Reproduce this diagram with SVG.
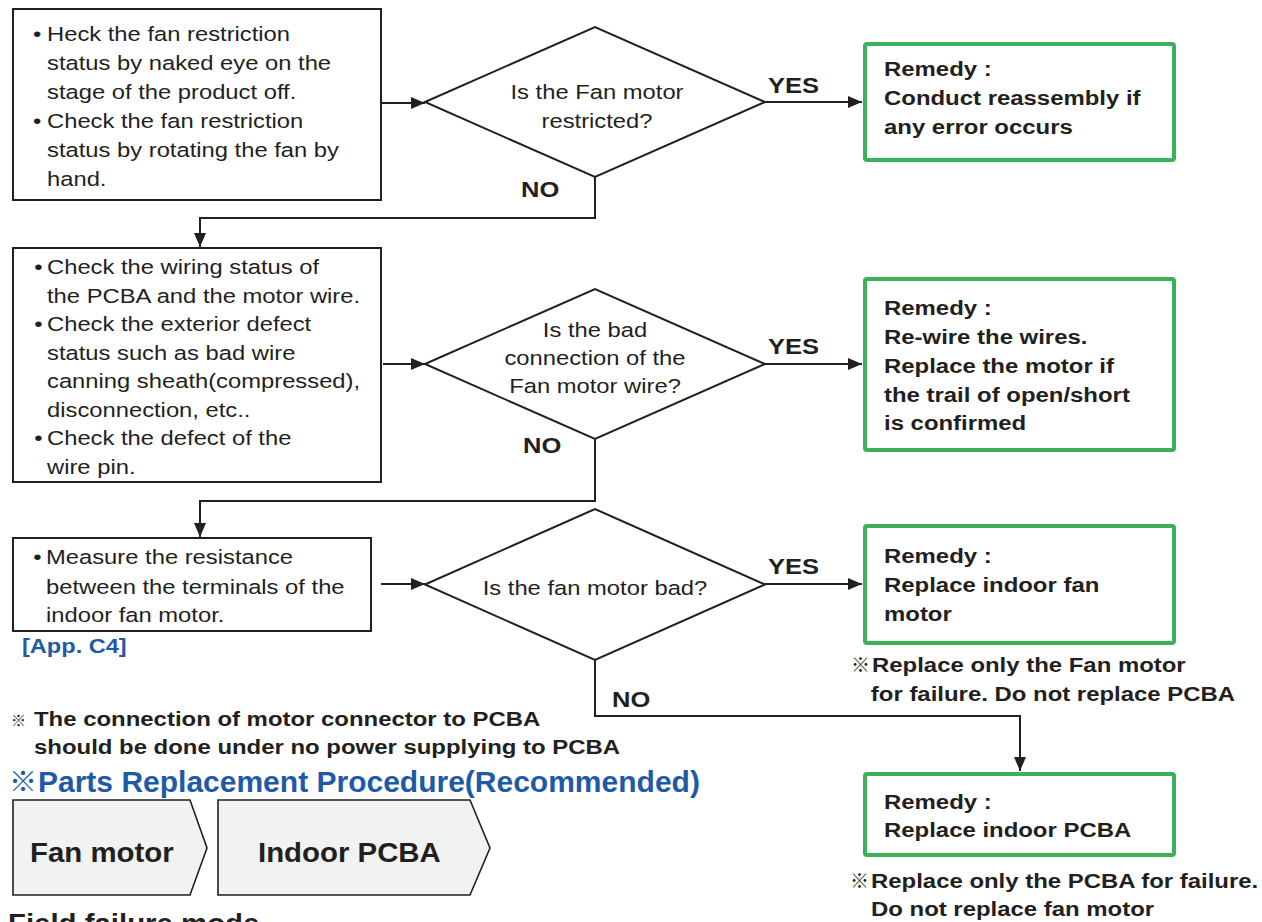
<svg xmlns="http://www.w3.org/2000/svg" width="1262" height="922" viewBox="0 0 1262 922">
<defs>
<style>
.t{font-family:"Liberation Sans",Arial,"Noto Sans CJK JP",sans-serif;font-size:20.5px;fill:#231f20}
.b{font-family:"Liberation Sans",Arial,"Noto Sans CJK JP",sans-serif;font-weight:bold;font-size:21px;fill:#231f20}
.lbl{font-family:"Liberation Sans",Arial,sans-serif;font-weight:bold;font-size:22px;fill:#231f20}
.box{fill:#fff;stroke:#231f20;stroke-width:2}
.rem{fill:#fff;stroke:#3bb15a;stroke-width:4}
.pent{fill:#f1f2f2;stroke:#231f20;stroke-width:1.6}
.con{fill:none;stroke:#231f20;stroke-width:2}
.mark{font-family:"Noto Sans CJK JP","DejaVu Sans",sans-serif;font-weight:bold;fill:#231f20}
.blue{fill:#1f5aa8}
</style>
<marker id="ah" viewBox="0 0 14 12" refX="14" refY="6" markerWidth="14" markerHeight="12" markerUnits="userSpaceOnUse" orient="auto">
<path d="M0,0 L14,6 L0,12 z" fill="#231f20"/>
</marker>
</defs>
<rect width="1262" height="922" fill="#fff"/>

<g id="connectors">
<path class="con" d="M382,103 H425" marker-end="url(#ah)"/>
<path class="con" d="M765,102 H862" marker-end="url(#ah)"/>
<path class="con" d="M595,177 V218 H200 V247" marker-end="url(#ah)"/>
<path class="con" d="M383,364 H425" marker-end="url(#ah)"/>
<path class="con" d="M765,364 H862" marker-end="url(#ah)"/>
<path class="con" d="M595,439 V501 H200 V537" marker-end="url(#ah)"/>
<path class="con" d="M381,584 H425" marker-end="url(#ah)"/>
<path class="con" d="M765,584 H862" marker-end="url(#ah)"/>
<path class="con" d="M595,660 V716 H1020 V771" marker-end="url(#ah)"/>
<text class="lbl" transform="translate(768 93) scale(1.16 1)">YES</text>
<text class="lbl" transform="translate(768 354) scale(1.16 1)">YES</text>
<text class="lbl" transform="translate(768 574) scale(1.16 1)">YES</text>
<text class="lbl" transform="translate(521 197) scale(1.16 1)">NO</text>
<text class="lbl" transform="translate(523 453) scale(1.16 1)">NO</text>
<text class="lbl" transform="translate(612 707) scale(1.16 1)">NO</text>
</g>

<g id="check1">
<rect class="box" x="13" y="9" width="368" height="191"/>
<g transform="translate(47 0) scale(1.16 1)">
<text class="t" x="-12" y="41.5">•</text>
<text class="t" x="0" y="41.5">Heck the fan restriction</text>
<text class="t" x="0" y="70.5">status by naked eye on the</text>
<text class="t" x="0" y="99.5">stage of the product off.</text>
<text class="t" x="-12" y="128.5">•</text>
<text class="t" x="0" y="128.5">Check the fan restriction</text>
<text class="t" x="0" y="157.5">status by rotating the fan by</text>
<text class="t" x="0" y="186.5">hand.</text>
</g>
</g>

<g id="decision1">
<polygon class="box" points="425,102 595,27 765,102 595,177"/>
<g transform="translate(597 0) scale(1.16 1)">
<text class="t" x="0" y="99.5" text-anchor="middle">Is the Fan motor</text>
<text class="t" x="0" y="128.5" text-anchor="middle">restricted?</text>
</g>
</g>

<g id="remedy1">
<rect class="rem" x="865" y="44" width="309" height="116" rx="2"/>
<g transform="translate(884 0) scale(1.14 1)">
<text class="b" x="0" y="76.5">Remedy :</text>
<text class="b" x="0" y="105.5">Conduct reassembly if</text>
<text class="b" x="0" y="134.5">any error occurs</text>
</g>
</g>

<g id="check2">
<rect class="box" x="13" y="248" width="368" height="234"/>
<g transform="translate(47 0) scale(1.16 1)">
<text class="t" x="-11" y="274">•</text>
<text class="t" x="0" y="274">Check the wiring status of</text>
<text class="t" x="0" y="302.8">the PCBA and the motor wire.</text>
<text class="t" x="-11" y="331.2">•</text>
<text class="t" x="0" y="331.2">Check the exterior defect</text>
<text class="t" x="0" y="360">status such as bad wire</text>
<text class="t" x="0" y="388.5">canning sheath(compressed),</text>
<text class="t" x="0" y="417">disconnection, etc..</text>
<text class="t" x="-11" y="445.5">•</text>
<text class="t" x="0" y="445.5">Check the defect of the</text>
<text class="t" x="0" y="474">wire pin.</text>
</g>
</g>

<g id="decision2">
<polygon class="box" points="425,364 595,289 765,364 595,439"/>
<g transform="translate(595 0) scale(1.16 1)">
<text class="t" x="0" y="337" text-anchor="middle">Is the bad</text>
<text class="t" x="0" y="365" text-anchor="middle">connection of the</text>
<text class="t" x="0" y="393" text-anchor="middle">Fan motor wire?</text>
</g>
</g>

<g id="remedy2">
<rect class="rem" x="865" y="279" width="309" height="171" rx="2"/>
<g transform="translate(884 0) scale(1.14 1)">
<text class="b" x="0" y="315">Remedy :</text>
<text class="b" x="0" y="344">Re-wire the wires.</text>
<text class="b" x="0" y="373">Replace the motor if</text>
<text class="b" x="0" y="402">the trail of open/short</text>
<text class="b" x="0" y="430">is confirmed</text>
</g>
</g>

<g id="check3">
<rect class="box" x="13" y="538" width="358" height="93"/>
<g transform="translate(46 0) scale(1.16 1)">
<text class="t" x="-11" y="564.5">•</text>
<text class="t" x="0" y="564.5">Measure the resistance</text>
<text class="t" x="0" y="594">between the terminals of the</text>
<text class="t" x="0" y="622.5">indoor fan motor.</text>
</g>
<text class="b blue" transform="translate(22 653) scale(1.15 1)" style="font-size:20.5px">[App. C4]</text>
</g>

<g id="decision3">
<polygon class="box" points="425,584.5 595,509 765,584.5 595,660"/>
<text class="t" transform="translate(595 594.5) scale(1.16 1)" text-anchor="middle">Is the fan motor bad?</text>
</g>

<g id="remedy3">
<rect class="rem" x="865" y="526" width="309" height="117" rx="2"/>
<g transform="translate(884 0) scale(1.14 1)">
<text class="b" x="0" y="563">Remedy :</text>
<text class="b" x="0" y="592">Replace indoor fan</text>
<text class="b" x="0" y="621.5">motor</text>
</g>
<text class="mark" x="851" y="672" style="font-size:19px">※</text>
<g transform="translate(872 0) scale(1.14 1)">
<text class="b" x="0" y="672">Replace only the Fan motor</text>
<text class="b" x="-1" y="701">for failure. Do not replace PCBA</text>
</g>
</g>

<g id="remedy4">
<rect class="rem" x="865" y="774" width="309" height="81" rx="2"/>
<g transform="translate(884 0) scale(1.14 1)">
<text class="b" x="0" y="809.5">Remedy :</text>
<text class="b" x="0" y="837.5">Replace indoor PCBA</text>
</g>
<text class="mark" x="850" y="888" style="font-size:19px">※</text>
<g transform="translate(871 0) scale(1.14 1)">
<text class="b" x="0" y="888">Replace only the PCBA for failure.</text>
<text class="b" x="0" y="916.5">Do not replace fan motor</text>
</g>
</g>

<g id="notes">
<text class="mark" x="11" y="726" style="font-size:15px">※</text>
<g transform="translate(34 0) scale(1.14 1)">
<text class="b" x="0" y="726.5">The connection of motor connector to PCBA</text>
<text class="b" x="0" y="754.5">should be done under no power supplying to PCBA</text>
</g>
<text class="mark blue" x="9" y="792" style="font-size:28px">※</text>
<text class="b blue" x="38" y="792" style="font-size:30px">Parts Replacement Procedure(Recommended)</text>
</g>

<g id="part1">
<polygon class="pent" points="13,800 190,800 207,848 190,895 13,895"/>
<text class="b" transform="translate(30 862) scale(1.05 1)" style="font-size:28px">Fan motor</text>
</g>
<g id="part2">
<polygon class="pent" points="218,800 470,800 490,848 470,895 218,895"/>
<text class="b" transform="translate(258 862) scale(1.05 1)" style="font-size:28px">Indoor PCBA</text>
</g>

<text class="b" transform="translate(8 933) scale(1.05 1)" style="font-size:28px">Field failure mode</text>
</svg>
